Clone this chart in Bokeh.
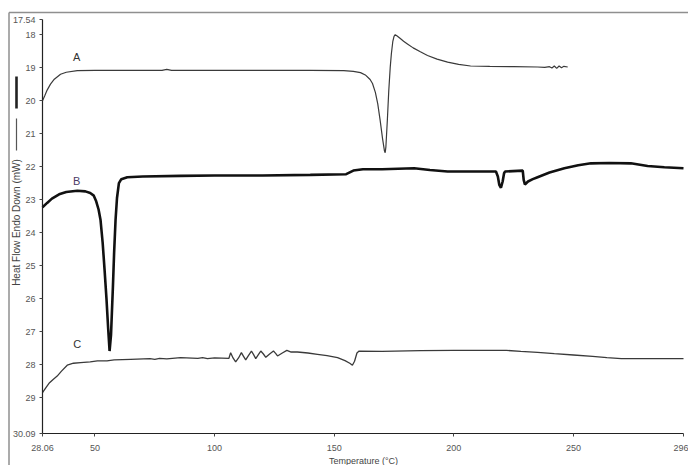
import math
from bokeh.plotting import figure
from bokeh.models import Range1d, FixedTicker, Label, Arrow
from bokeh.embed import file_html
from bokeh.resources import INLINE

# ---------------- data ----------------
series_names = ["A", "B", "C"]

a_temp = [28.06, 29, 30, 31.4, 33, 35.6, 38, 42.6, 50, 60, 78, 80, 82, 100, 120, 140,
          154, 158, 161, 163, 165, 166, 167.2, 168.2, 169.2, 170.2, 171.0, 171.3, 171.6,
          172.2, 172.8, 173.4, 173.9, 174.5, 175.0, 175.5, 176.3, 177.5, 179, 180.6, 183,
          186, 189, 193, 197.4, 202, 207, 215, 225, 235, 238, 240, 241, 242, 243, 244,
          245, 246, 247.6]
a_flow = [20.00, 19.85, 19.68, 19.50, 19.35, 19.20, 19.14, 19.09, 19.08, 19.08, 19.08, 19.05, 19.08, 19.08, 19.08, 19.08,
          19.09, 19.11, 19.15, 19.22, 19.36, 19.48, 19.75, 20.10, 20.60, 21.15, 21.52, 21.58, 21.40,
          20.60, 19.70, 19.00, 18.57, 18.20, 18.05, 18.00, 18.04, 18.11, 18.20, 18.28, 18.40,
          18.52, 18.63, 18.74, 18.83, 18.90, 18.95, 18.96, 18.97, 18.98, 18.99, 18.97, 19.01, 18.95, 19.02, 18.95,
          19.00, 18.96, 18.98]

b_temp = [28.06, 30, 32, 35, 38, 42.6, 46, 48, 49.5, 50.5, 51.5, 52.3, 53.2, 54.0, 54.8,
          55.5, 56.1, 56.7, 57.5, 58.0, 58.6, 59.2, 60.0, 61, 63.5, 70, 85.8, 100, 120,
          140, 155, 158, 162, 170, 183.4, 190, 197.4, 211, 217.6, 218.4, 219.0, 219.7,
          220.4, 221.0, 221.4, 228.8, 229.2, 229.7, 231, 233, 235, 240, 246.2, 252,
          257.3, 265, 274, 281, 288, 296]
b_flow = [23.23, 23.10, 22.97, 22.84, 22.77, 22.73, 22.75, 22.80, 22.88, 23.05, 23.30, 23.61, 24.30, 25.12, 26.00,
          26.90, 27.59, 27.10, 25.63, 24.60, 23.61, 22.95, 22.50, 22.38, 22.32, 22.30, 22.28, 22.27, 22.27,
          22.25, 22.23, 22.12, 22.08, 22.08, 22.05, 22.10, 22.15, 22.15, 22.15, 22.30, 22.55, 22.64,
          22.45, 22.20, 22.15, 22.12, 22.40, 22.54, 22.45, 22.38, 22.32, 22.18, 22.05, 21.96,
          21.90, 21.89, 21.90, 21.98, 22.02, 22.05]

c_temp = [28.06, 29.5, 31, 32.5, 34.2, 36, 38.4, 41, 44, 48, 51, 55, 58, 64.9, 73, 75, 77, 80,
          85.8, 93, 95, 97, 100, 106, 106.7, 107.7, 108.8, 110, 111.2, 112.1, 113, 114.2,
          115.4, 116.3, 117.2, 118.3, 119.3, 120.4, 121.4, 123, 124.6, 125.5, 126.3, 128.3,
          130.2, 132, 134.6, 139, 143, 147, 151.4, 154.5, 156.5, 157.6, 158.5, 159.5, 160.4,
          170, 186, 200, 222, 228, 235, 242, 250, 258, 264, 270, 296]
c_flow = [28.85, 28.70, 28.55, 28.45, 28.35, 28.20, 28.02, 27.96, 27.94, 27.92, 27.89, 27.89, 27.86, 27.84, 27.82, 27.84, 27.81, 27.83,
          27.79, 27.81, 27.79, 27.82, 27.80, 27.81, 27.64, 27.80, 27.92, 27.80, 27.64, 27.75, 27.86, 27.72,
          27.59, 27.70, 27.82, 27.70, 27.59, 27.68, 27.78, 27.68, 27.59, 27.66, 27.74, 27.65,
          27.57, 27.62, 27.62, 27.65, 27.69, 27.73, 27.79, 27.88, 27.96, 28.02, 27.90, 27.65, 27.59,
          27.60, 27.58, 27.57, 27.57, 27.60, 27.63, 27.67, 27.71, 27.75, 27.79, 27.82, 27.82]

x_ticks = [28.06, 50, 100, 150, 200, 250, 296]
x_tick_labels = ["28.06", "50", "100", "150", "200", "250", "296"]
y_ticks = [17.54, 18, 19, 20, 21, 22, 23, 24, 25, 26, 27, 28, 29, 30.09]
y_tick_labels = ["17.54", "18", "19", "20", "21", "22", "23", "24", "25", "26", "27", "28", "29", "30.09"]

x_title = "Temperature (°C)"
y_title = "Heat Flow Endo Down (mW)"

# ---------------- layout ----------------
W, H = 688, 465
X_MIN, X_MAX = 28.06, 296.0      # axis extent (data)
Y_TOP, Y_BOT = 17.54, 30.09
PX_L, PX_R, PX_T, PX_B = 42, 683, 19, 433   # where the axes sit in the picture

sx = (PX_R - PX_L) / (X_MAX - X_MIN)
sy = (PX_B - PX_T) / (Y_BOT - Y_TOP)
def dx(px):  # picture x pixel -> data x
    return X_MIN + (px - PX_L) / sx
def dy(py):  # picture y pixel -> data y
    return Y_TOP + (py - PX_T) / sy

p = figure(width=W, height=H, output_backend="svg", toolbar_location=None,
           x_range=Range1d(dx(0), dx(W)), y_range=Range1d(dy(H), dy(0)),
           min_border=0, min_border_left=0, min_border_right=0,
           min_border_top=0, min_border_bottom=0)
p.background_fill_color = "white"
p.border_fill_color = "white"
p.outline_line_color = None
p.xgrid.grid_line_color = None
p.ygrid.grid_line_color = None

p.xaxis.fixed_location = Y_BOT
p.yaxis.fixed_location = X_MIN
p.xaxis.bounds = (X_MIN, X_MAX)
p.yaxis.bounds = (Y_TOP, Y_BOT)

p.xaxis.ticker = FixedTicker(ticks=x_ticks)
p.xaxis.major_label_overrides = {t: l for t, l in zip(x_ticks, x_tick_labels)}
p.yaxis.ticker = FixedTicker(ticks=y_ticks)
p.yaxis.major_label_overrides = {t: l for t, l in zip(y_ticks, y_tick_labels)}
for ax in (p.xaxis, p.yaxis):
    ax.axis_line_color = "#222222"
    ax.axis_line_width = 1.2
    ax.major_tick_line_color = "#444444"
    ax.major_tick_out = 3
    ax.major_tick_in = 0
    ax.minor_tick_line_color = None
    ax.major_label_text_font = "Liberation Sans"
    ax.major_label_text_font_size = "9px"
    ax.major_label_text_color = "#555555"
p.xaxis.major_label_standoff = 8
p.yaxis.major_label_standoff = 4

# curves
p.line(a_temp, a_flow, line_color="#3a3a3a", line_width=1.2)
p.line(b_temp, b_flow, line_color="#111111", line_width=2.6)
p.line(c_temp, c_flow, line_color="#3a3a3a", line_width=1.3)

# curve letters
letter_pos = [(42.3, 18.69), (42.3, 22.45), (42.6, 27.39)]
letter_col = ["#333333", "#4a3a66", "#333333"]
for name, (lx, ly), col in zip(series_names, letter_pos, letter_col):
    p.add_layout(Label(x=lx, y=ly, text=name, text_align="center", text_baseline="middle",
                       text_font="Liberation Sans", text_font_size="11px", text_color=col))

# axis titles
p.add_layout(Label(x=dx(16), y=dy(222), text=y_title, angle=math.pi / 2, text_align="center",
                   text_baseline="middle", text_font="Liberation Sans",
                   text_font_size="10px", text_color="#444444"))
p.add_layout(Label(x=dx(363), y=dy(455), text=x_title, text_align="center",
                   text_baseline="top", text_font="Liberation Sans",
                   text_font_size="9px", text_color="#444444"))

# line-style samples beside the y title
p.add_layout(Arrow(end=None, x_start=dx(16), y_start=dy(76), x_end=dx(16), y_end=dy(108),
                   line_color="#222222", line_width=2.6))
p.add_layout(Arrow(end=None, x_start=dx(16), y_start=dy(118), x_end=dx(16), y_end=dy(150),
                   line_color="#555555", line_width=1.2))

# outer frame of the original picture
p.add_layout(Arrow(end=None, x_start=dx(8.5), y_start=dy(12), x_end=dx(8.5), y_end=dy(H + 5),
                   line_color="#8f8f8f", line_width=1.5))
p.add_layout(Arrow(end=None, x_start=dx(8.5), y_start=dy(12), x_end=dx(W + 5), y_end=dy(12),
                   line_color="#8f8f8f", line_width=1.5))

open("out.html", "w").write(file_html(p, INLINE))
